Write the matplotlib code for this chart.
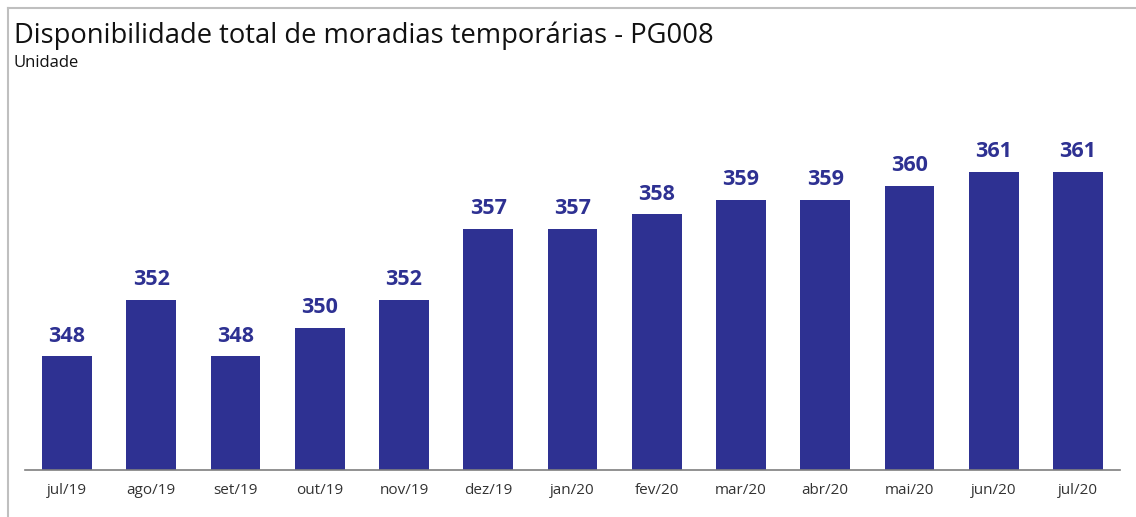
import matplotlib
matplotlib.use("Agg")
import matplotlib.pyplot as plt
from matplotlib.lines import Line2D

categories = ["jul/19", "ago/19", "set/19", "out/19", "nov/19", "dez/19", "jan/20",
              "fev/20", "mar/20", "abr/20", "mai/20", "jun/20", "jul/20"]
values = [348, 352, 348, 350, 352, 357, 357, 358, 359, 359, 360, 361, 361]

bar_color = "#2E3192"
font = ["Open Sans", "DejaVu Sans"]

fig = plt.figure(figsize=(11.36, 5.17), dpi=100)
ax = fig.add_axes([25/1136, 1 - 470/517, (1120 - 25)/1136, (470 - 100)/517])

x = range(len(categories))
ax.bar(x, values, width=0.59, color=bar_color, zorder=2)
ax.set_ylim(340, 340 + 370/14.2)
ax.set_xlim(-0.5, len(categories) - 0.5)

for xi, v in zip(x, values):
    ax.annotate(str(v), (xi, v), xytext=(0, 7), textcoords="offset points",
                ha="center", va="bottom", fontsize=15.5, fontweight="bold",
                color=bar_color, family=font)

ax.set_xticks(list(x))
ax.set_xticklabels(categories, fontsize=11, color="#333333", family=font)
ax.tick_params(axis="x", length=0, pad=9)
ax.set_yticks([])
for s in ["top", "right", "left"]:
    ax.spines[s].set_visible(False)
ax.spines["bottom"].set_color("#7f7f7f")
ax.spines["bottom"].set_linewidth(1.2)

fig.text(14/1136, 1 - 43/517, "Disponibilidade total de moradias temporárias - PG008",
         fontsize=19.7, color="#111111", family=font, ha="left", va="baseline")
fig.text(14/1136, 1 - 67/517, "Unidade", fontsize=12, color="#111111",
         family=font, ha="left", va="baseline")

# frame lines (top and left)
fig.add_artist(Line2D([8/1136, 1], [1 - 8/517, 1 - 8/517], transform=fig.transFigure,
                      color="#bfbfbf", lw=1.5))
fig.add_artist(Line2D([8/1136, 8/1136], [0, 1 - 8/517], transform=fig.transFigure,
                      color="#bfbfbf", lw=1.5))

fig.savefig("out.png", dpi=100, facecolor="white")
